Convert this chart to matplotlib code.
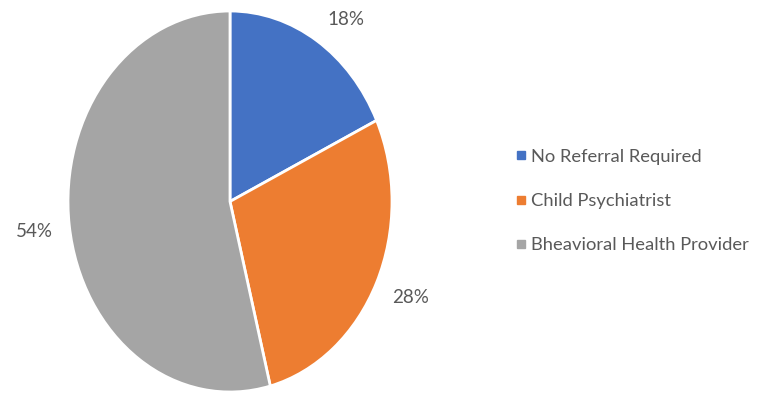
import matplotlib
matplotlib.use("Agg")
import numpy as np
import matplotlib.pyplot as plt
from matplotlib.lines import Line2D

categories = ["No Referral Required", "Child Psychiatrist", "Bheavioral Health Provider"]
values = [18, 28, 54]
colors = ["#4472C4", "#ED7D31", "#A5A5A5"]

plt.rcParams['font.family'] = ['Lato', 'DejaVu Sans']
txt = "#595959"

fig = plt.figure(figsize=(7.64, 3.93), dpi=100)
ax = fig.add_axes([68/764, 1/393, 324/764, 381/393])
wedges, _ = ax.pie(
    values, colors=colors, startangle=90, counterclock=False, radius=1,
    wedgeprops=dict(edgecolor="white", linewidth=2))
ax.set_aspect('auto')
ax.set_xlim(-1, 1)
ax.set_ylim(-1, 1)
ax.axis('off')

total = sum(values)
for w, v in zip(wedges, values):
    t = np.deg2rad((w.theta1 + w.theta2) / 2)
    c, s = np.cos(t), np.sin(t)
    dx = np.copysign(17 + 8 * abs(c), c)
    dy = s * 20 - 2
    ax.annotate(f"{v / total * 100:.0f}%", xy=(c, s), xycoords='data',
                xytext=(dx, dy), textcoords='offset points',
                ha='center', va='center', color=txt, fontsize=13.5,
                annotation_clip=False)

handles = [Line2D([0], [0], marker='s', linestyle='none', markersize=5.5,
                  markerfacecolor=c, markeredgecolor=c) for c in colors]
leg = fig.legend(handles, categories, loc='center left',
                 bbox_to_anchor=(506/764, (393 - 201)/393), frameon=False,
                 fontsize=13.2, labelcolor=txt, handlelength=0.6,
                 handletextpad=0.25, labelspacing=1.55, borderpad=0)
fig.savefig("out.png", dpi=100, facecolor="white")
